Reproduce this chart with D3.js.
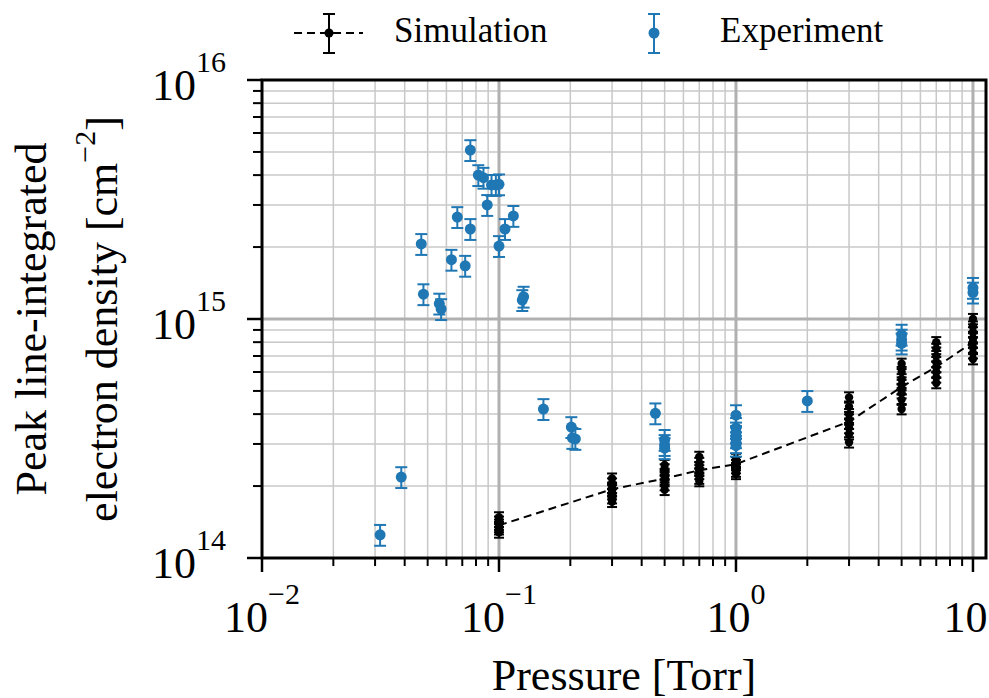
<!DOCTYPE html>
<html>
<head>
<meta charset="utf-8">
<script src="https://cdn.jsdelivr.net/npm/d3@7"></script>
<style>
  body { margin: 0; background: #fff; }
  text { font-family: "Liberation Serif", "DejaVu Serif", serif; fill: #000; }
</style>
</head>
<body>
<svg id="chart"></svg>
<script>
// Canvas size
const width = 989, height = 698;
const margin = { left: 262, top: 80, right: 3, bottom: 140 };

// Simulation: pressure columns and the runs at each one
const simPressure = [0.1, 0.3, 0.5, 0.7, 1, 3, 5, 7, 10];
const simDensity = [
  [1.48e14, 1.42e14, 1.38e14, 1.35e14, 1.32e14, 1.28e14],
  [2.15e14, 2.05e14, 1.97e14, 1.92e14, 1.85e14, 1.78e14, 1.72e14],
  [2.45e14, 2.35e14, 2.25e14, 2.18e14, 2.10e14, 2.02e14, 1.93e14],
  [2.65e14, 2.50e14, 2.40e14, 2.33e14, 2.25e14, 2.15e14, 2.10e14],
  [2.60e14, 2.52e14, 2.45e14, 2.38e14, 2.30e14, 2.25e14],
  [4.70e14, 4.30e14, 4.00e14, 3.80e14, 3.65e14, 3.50e14, 3.30e14, 3.05e14],
  [6.50e14, 6.00e14, 5.60e14, 5.30e14, 5.10e14, 4.90e14, 4.60e14, 4.20e14],
  [8.00e14, 7.50e14, 7.00e14, 6.60e14, 6.30e14, 6.00e14, 5.70e14, 5.40e14],
  [1.00e15, 9.30e14, 8.80e14, 8.30e14, 8.00e14, 7.60e14, 7.20e14, 6.80e14]
];
// dashed trend line through the simulation columns
const simLine = [1.37e14, 1.94e14, 2.15e14, 2.33e14, 2.47e14, 3.72e14, 5.2e14, 6.3e14, 8.0e14];
const simErrFrac = 0.05;

// Experiment
const expPressure = [0.0315, 0.0387, 0.047, 0.048, 0.056, 0.057, 0.063, 0.0667, 0.072, 0.0757,
  0.0757, 0.0818, 0.086, 0.0892, 0.093, 0.097, 0.1, 0.1, 0.106, 0.115,
  0.1254, 0.127, 0.154, 0.202, 0.204, 0.21, 0.457, 0.5, 0.5, 0.5,
  1, 1, 1, 1, 1, 1, 2, 5, 5, 5, 10, 10];
const expDensity = [1.25e14, 2.18e14, 2.06e15, 1.27e15, 1.16e15, 1.10e15, 1.77e15, 2.67e15, 1.67e15, 5.09e15,
  2.38e15, 4.0e15, 3.9e15, 3.0e15, 3.64e15, 3.64e15, 3.66e15, 2.02e15, 2.38e15, 2.7e15,
  1.2e15, 1.24e15, 4.2e14, 3.53e14, 3.18e14, 3.15e14, 4.03e14, 3.12e14, 2.97e14, 2.88e14,
  3.96e14, 3.5e14, 3.35e14, 3.2e14, 3.05e14, 2.95e14, 4.54e14, 8.6e14, 8.2e14, 7.9e14, 1.35e15, 1.29e15];
const expErrFrac = 0.1;

// Axis ticks
const xMajor = [1e-2, 1e-1, 1e0, 1e1];
const xMajorExp = ["−2", "−1", "0", "1"];
const yMajor = [1e14, 1e15, 1e16];
const yMajorExp = ["14", "15", "16"];
const legendLabels = ["Simulation", "Experiment"];

const blue = "#1f77b4";

const svg = d3.select("#chart").attr("width", width).attr("height", height);
svg.append("rect").attr("width", width).attr("height", height).attr("fill", "#fff");

const x = d3.scaleLog().domain([1e-2, 11.35]).range([margin.left, width - margin.right]);
const y = d3.scaleLog().domain([1e14, 1e16]).range([height - margin.bottom, margin.top]);
const [x0, x1] = x.range(), [y0, y1] = y.range();

// minor tick values: 2..9 in each decade
function minors(lo, hi) {
  const out = [];
  for (let e = Math.floor(Math.log10(lo)); e < Math.log10(hi); e++)
    for (let m = 2; m <= 9; m++) {
      const v = m * Math.pow(10, e);
      if (v > lo && v < hi) out.push(v);
    }
  return out;
}
const xMinor = minors(...x.domain());
const yMinor = minors(...y.domain());

// Grid
const grid = svg.append("g");
grid.selectAll(".gxm").data(xMinor).join("line")
  .attr("x1", d => x(d)).attr("x2", d => x(d)).attr("y1", y0).attr("y2", y1)
  .attr("stroke", "#c8c8c8").attr("stroke-width", 1.5);
grid.selectAll(".gym").data(yMinor).join("line")
  .attr("y1", d => y(d)).attr("y2", d => y(d)).attr("x1", x0).attr("x2", x1)
  .attr("stroke", "#c8c8c8").attr("stroke-width", 1.5);
grid.selectAll(".gxM").data(xMajor.filter(d => d > 1e-2)).join("line")
  .attr("x1", d => x(d)).attr("x2", d => x(d)).attr("y1", y0).attr("y2", y1)
  .attr("stroke", "#b0b0b0").attr("stroke-width", 3);
grid.selectAll(".gyM").data(yMajor.slice(1, -1)).join("line")
  .attr("y1", d => y(d)).attr("y2", d => y(d)).attr("x1", x0).attr("x2", x1)
  .attr("stroke", "#b0b0b0").attr("stroke-width", 3);

// Simulation points with small error bars
const simPts = simPressure.flatMap((p, i) => simDensity[i].map(v => ({ p, v })));
const sim = svg.append("g");
sim.append("path")
  .datum(simPressure.map((p, i) => [p, simLine[i]]))
  .attr("d", d3.line().x(d => x(d[0])).y(d => y(d[1])))
  .attr("fill", "none").attr("stroke", "#000").attr("stroke-width", 2)
  .attr("stroke-dasharray", "8,5");
function errorBars(g, pts, frac, color, cap, r) {
  const e = g.selectAll(null).data(pts).join("g");
  e.append("line").attr("x1", d => x(d.p)).attr("x2", d => x(d.p))
    .attr("y1", d => y(d.v * (1 + frac))).attr("y2", d => y(d.v * (1 - frac)))
    .attr("stroke", color).attr("stroke-width", 2);
  [1 + frac, 1 - frac].forEach(f => {
    e.append("line").attr("x1", d => x(d.p) - cap).attr("x2", d => x(d.p) + cap)
      .attr("y1", d => y(d.v * f)).attr("y2", d => y(d.v * f))
      .attr("stroke", color).attr("stroke-width", 2);
  });
  e.append("circle").attr("cx", d => x(d.p)).attr("cy", d => y(d.v)).attr("r", r).attr("fill", color);
}
errorBars(sim, simPts, simErrFrac, "#000", 5, 4.2);

// Experiment points
const expPts = expPressure.map((p, i) => ({ p, v: expDensity[i] }));
errorBars(svg.append("g"), expPts, expErrFrac, blue, 6, 5.5);

// Spines
svg.append("rect").attr("x", x0).attr("y", y1).attr("width", x1 - x0).attr("height", y0 - y1)
  .attr("fill", "none").attr("stroke", "#000").attr("stroke-width", 3);

// Ticks
const ticks = svg.append("g").attr("stroke", "#000");
ticks.selectAll(".txM").data(xMajor).join("line")
  .attr("x1", d => x(d)).attr("x2", d => x(d)).attr("y1", y0).attr("y2", y0 + 14).attr("stroke-width", 2.5);
ticks.selectAll(".txm").data(xMinor).join("line")
  .attr("x1", d => x(d)).attr("x2", d => x(d)).attr("y1", y0).attr("y2", y0 + 8).attr("stroke-width", 2);
ticks.selectAll(".tyM").data(yMajor).join("line")
  .attr("y1", d => y(d)).attr("y2", d => y(d)).attr("x1", x0).attr("x2", x0 - 15).attr("stroke-width", 2.5);
ticks.selectAll(".tym").data(yMinor).join("line")
  .attr("y1", d => y(d)).attr("y2", d => y(d)).attr("x1", x0).attr("x2", x0 - 9).attr("stroke-width", 2);

// Tick labels: 10 with superscript exponent
function powLabel(sel, exp) {
  sel.append("tspan").attr("font-size", 44).text("10");
  sel.append("tspan").attr("font-size", 30).attr("dy", -28).text(exp);
}
xMajor.forEach((d, i) => {
  const t = svg.append("text").attr("x", x(d)).attr("y", 632).attr("text-anchor", "middle");
  powLabel(t, xMajorExp[i]);
});
yMajor.forEach((d, i) => {
  const t = svg.append("text").attr("x", 226).attr("y", y(d) + 20).attr("text-anchor", "end");
  powLabel(t, yMajorExp[i]);
});

// Axis labels
svg.append("text").attr("x", (x0 + x1) / 2).attr("y", 690).attr("text-anchor", "middle")
  .attr("font-size", 44).text("Pressure [Torr]");
const yl = svg.append("g").attr("transform", `translate(0,${(y0 + y1) / 2}) rotate(-90)`);
yl.append("text").attr("x", 0).attr("y", 46).attr("text-anchor", "middle")
  .attr("font-size", 44).text("Peak line-integrated");
const yl2 = yl.append("text").attr("x", 0).attr("y", 117).attr("text-anchor", "middle").attr("font-size", 44);
yl2.append("tspan").text("electron density [cm");
yl2.append("tspan").attr("font-size", 30).attr("dy", -22).text("−2");
yl2.append("tspan").attr("dy", 22).text("]");

// Legend
const leg = svg.append("g");
leg.append("line").attr("x1", 294).attr("x2", 363).attr("y1", 33).attr("y2", 33)
  .attr("stroke", "#000").attr("stroke-width", 2).attr("stroke-dasharray", "8,5");
[[329, "#000", 4.5], [654, blue, 5.5]].forEach(([cx, c, r]) => {
  leg.append("line").attr("x1", cx).attr("x2", cx).attr("y1", 14).attr("y2", 53).attr("stroke", c).attr("stroke-width", 2);
  [14, 53].forEach(cy => leg.append("line").attr("x1", cx - 6).attr("x2", cx + 6)
    .attr("y1", cy).attr("y2", cy).attr("stroke", c).attr("stroke-width", 2));
  leg.append("circle").attr("cx", cx).attr("cy", 33).attr("r", r).attr("fill", c);
});
leg.append("text").attr("x", 394).attr("y", 42).attr("font-size", 35).text(legendLabels[0]);
leg.append("text").attr("x", 720).attr("y", 42).attr("font-size", 35).text(legendLabels[1]);
</script>
</body>
</html>
